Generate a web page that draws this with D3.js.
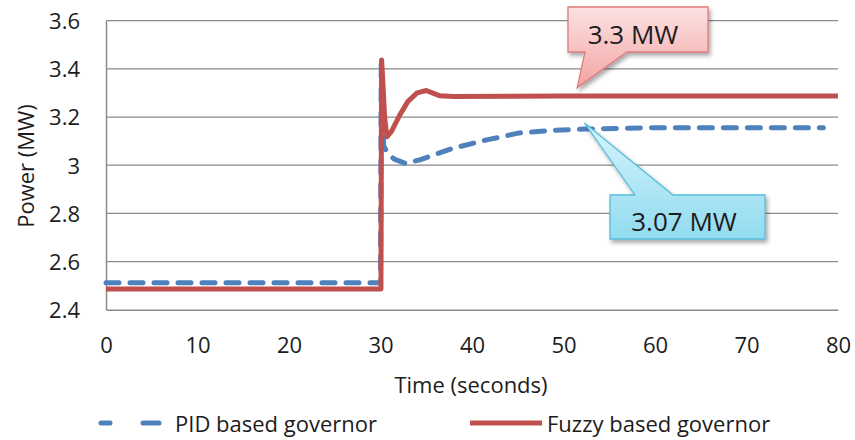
<!DOCTYPE html>
<html><head><meta charset="utf-8">
<script src="https://cdn.jsdelivr.net/npm/d3@7"></script>
<style>
body{margin:0;background:#fff}
text{font-family:"Open Sans",sans-serif;fill:#1c1c1c}
</style>
</head><body>
<svg id="c" width="855" height="440"></svg>
<script>
// ---------- data ----------
const pidTime  = [0, 30.0, 30.08, 30.35, 30.8, 31.5, 32.7, 34.3, 36.0, 37.9, 41.6, 45.2, 48.9, 52.5, 56.2, 60, 65, 70, 75, 78.4];
const pidPower = [2.512, 2.512, 3.44, 3.08, 3.05, 3.025, 3.008, 3.022, 3.045, 3.07, 3.105, 3.134, 3.145, 3.15, 3.153, 3.156, 3.156, 3.156, 3.156, 3.156];
const fuzzyTime  = [0, 30.05, 30.12, 30.25, 30.45, 30.7, 31.2, 32.1, 33.0, 34.0, 35.0, 35.8, 36.5, 38, 50, 60, 70, 80];
const fuzzyPower = [2.486, 2.486, 3.437, 3.35, 3.2, 3.118, 3.14, 3.208, 3.265, 3.3, 3.31, 3.298, 3.288, 3.285, 3.287, 3.287, 3.287, 3.287];
const xTicks = [0, 10, 20, 30, 40, 50, 60, 70, 80];
const yTicks = [2.4, 2.6, 2.8, 3.0, 3.2, 3.4, 3.6];
const yTickLabels = ["2.4", "2.6", "2.8", "3", "3.2", "3.4", "3.6"];
const seriesNames = ["PID based governor", "Fuzzy based governor"];
const calloutLabels = ["3.3 MW", "3.07 MW"];
const calloutTime = [51.5, 52.3];
const calloutPower = [3.322, 3.175];

// ---------- layout ----------
const L = 106, R = 838, T = 20.7, B = 309.7;
const blue = "#4F81BD", red = "#C0504D", grid = "#8a8a8a";
const svg = d3.select("#c");
const x = d3.scaleLinear().domain([0, 80]).range([L, R]);
const y = d3.scaleLinear().domain([2.4, 3.6]).range([B, T]);

const defs = svg.append("defs");
const g1 = defs.append("linearGradient").attr("id","gPink").attr("x1",0).attr("y1",0).attr("x2",0).attr("y2",1);
g1.append("stop").attr("offset","0%").attr("stop-color","#FCE2E2");
g1.append("stop").attr("offset","100%").attr("stop-color","#F3A3A3");
const g2 = defs.append("linearGradient").attr("id","gCyan").attr("x1",0).attr("y1",0).attr("x2",0).attr("y2",1);
g2.append("stop").attr("offset","0%").attr("stop-color","#D6F4FC");
g2.append("stop").attr("offset","100%").attr("stop-color","#92DBEF");
const f = defs.append("filter").attr("id","sh").attr("x","-20%").attr("y","-20%").attr("width","150%").attr("height","160%");
f.append("feDropShadow").attr("dx",2).attr("dy",3).attr("stdDeviation",2).attr("flood-color","#000").attr("flood-opacity",0.35);

// gridlines
svg.append("g").selectAll("line").data(yTicks.filter(v => v > 2.4)).join("line")
  .attr("x1", L).attr("x2", R).attr("y1", d => y(d)).attr("y2", d => y(d))
  .attr("stroke", grid).attr("stroke-width", 1.3);

// axes (lines + labels)
const xAxis = d3.axisBottom(x).tickValues(xTicks).tickSize(0).tickPadding(0).tickFormat(d3.format("d"));
const gx = svg.append("g").attr("transform", `translate(0,${B})`).call(xAxis);
gx.select(".domain").attr("stroke", grid).attr("stroke-width", 1.5);
gx.selectAll("text").attr("y", 43).attr("dy", null).style("font-size", "22px").attr("fill", "#1c1c1c");

const yAxis = d3.axisLeft(y).tickValues(yTicks).tickSize(0).tickPadding(0).tickFormat((d, i) => yTickLabels[i]);
const gy = svg.append("g").attr("transform", `translate(${L},0)`).call(yAxis);
gy.select(".domain").attr("stroke", grid).attr("stroke-width", 1.5);
gy.selectAll("text").attr("x", -26).attr("dy", "0.36em").style("font-size", "22px").attr("fill", "#1c1c1c");

// series
const line = d3.line().x(d => x(d[0])).y(d => y(d[1]));
const pidData = pidTime.map((t, i) => [t, pidPower[i]]);
const fuzzyData = fuzzyTime.map((t, i) => [t, fuzzyPower[i]]);
svg.append("path").datum(pidData).attr("d", line).attr("fill", "none")
  .attr("stroke", blue).attr("stroke-width", 5).attr("stroke-dasharray", "13,11")
  .attr("stroke-linecap", "round").attr("stroke-linejoin", "round");
svg.append("path").datum(fuzzyData).attr("d", line).attr("fill", "none")
  .attr("stroke", red).attr("stroke-width", 5).attr("stroke-linejoin", "round");

// axis titles
svg.append("text").attr("x", 471).attr("y", 393).attr("text-anchor", "middle")
  .style("font-size", "22px").text("Time (seconds)");
svg.append("text").attr("transform", "translate(34,166) rotate(-90)").attr("text-anchor", "middle")
  .style("font-size", "22px").text("Power (MW)");

// legend
const lg = svg.append("g");
lg.append("line").attr("x1", 101).attr("x2", 110).attr("y1", 423).attr("y2", 423)
  .attr("stroke", blue).attr("stroke-width", 5).attr("stroke-linecap", "round");
lg.append("line").attr("x1", 143).attr("x2", 159).attr("y1", 423).attr("y2", 423)
  .attr("stroke", blue).attr("stroke-width", 5).attr("stroke-linecap", "round");
lg.append("text").attr("x", 175).attr("y", 432).style("font-size", "22px").text(seriesNames[0]);
lg.append("line").attr("x1", 470).attr("x2", 542).attr("y1", 423).attr("y2", 423)
  .attr("stroke", red).attr("stroke-width", 5);
lg.append("text").attr("x", 547).attr("y", 432).style("font-size", "22px").text(seriesNames[1]);

// callouts
const tip0 = [x(calloutTime[0]), y(calloutPower[0])];
const tip1 = [x(calloutTime[1]), y(calloutPower[1])];
svg.append("path")
  .attr("d", `M568,7 H708 V52 H627 L${tip0[0]},${tip0[1]} L585,52 H568 Z`)
  .attr("fill", "url(#gPink)").attr("stroke", "#DE7B7B").attr("stroke-width", 1.3).attr("filter", "url(#sh)");
svg.append("text").attr("x", 633).attr("y", 44).attr("text-anchor", "middle")
  .style("font-size", "26px").text(calloutLabels[0]);
svg.append("path")
  .attr("d", `M610,195 H635 L${tip1[0]},${tip1[1]} L673,195 H765 V239 H610 Z`)
  .attr("fill", "url(#gCyan)").attr("stroke", "#56BEDB").attr("stroke-width", 1.3).attr("filter", "url(#sh)");
svg.append("text").attr("x", 684).attr("y", 231).attr("text-anchor", "middle")
  .style("font-size", "26px").text(calloutLabels[1]);
</script>
</body></html>
